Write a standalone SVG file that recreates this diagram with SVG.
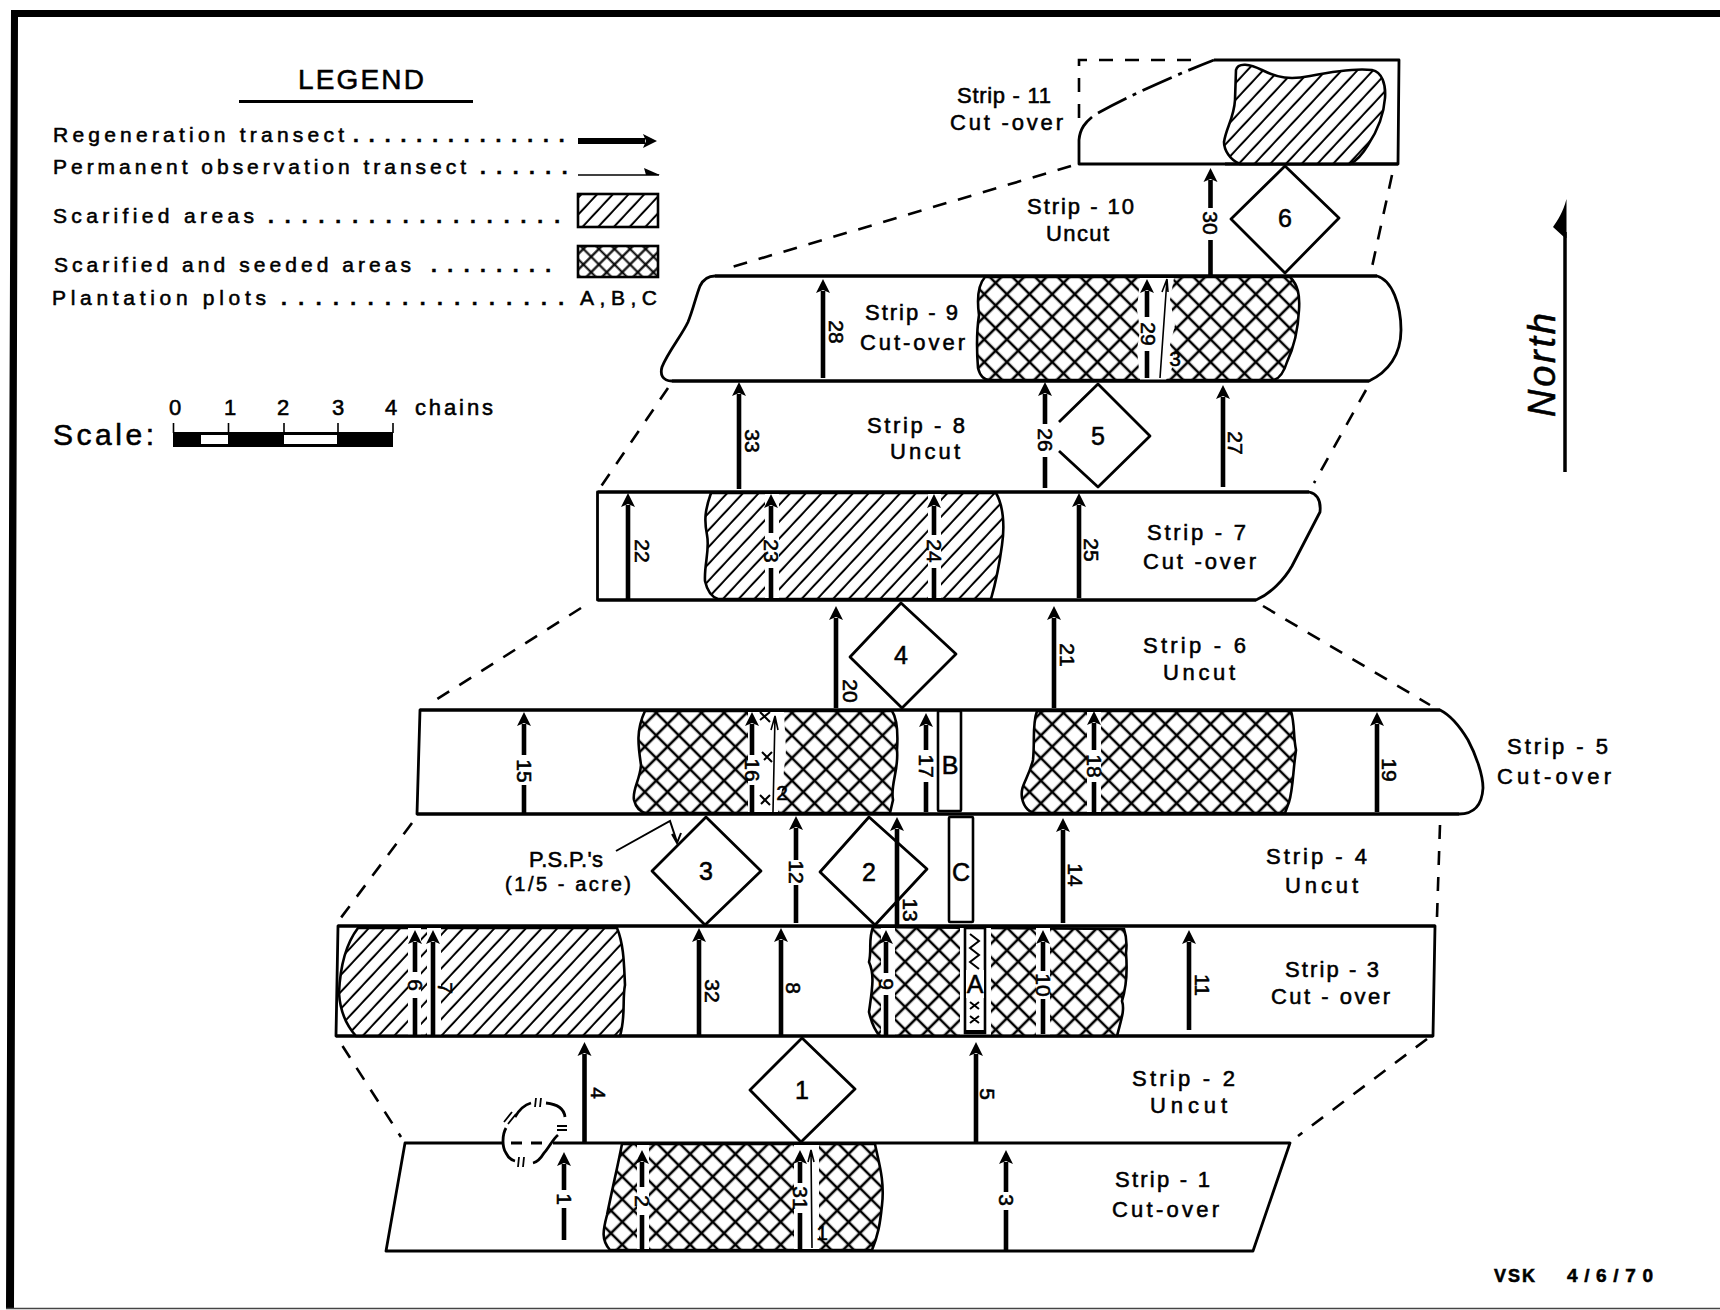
<svg xmlns="http://www.w3.org/2000/svg" width="1720" height="1310" viewBox="0 0 1720 1310">
<style>
text{font-family:"Liberation Sans",Arial,sans-serif;fill:#000;stroke:#000;stroke-width:.55}
.s{font-size:22px}
.leg{font-size:21px}
.dots{font-weight:bold}
.n{font-size:21px;text-anchor:middle;dominant-baseline:central}
.d{font-size:25px;text-anchor:middle;dominant-baseline:central}
.o{fill:#fff;stroke:#000;stroke-width:2.8;stroke-linejoin:round}
.e{fill:none;stroke:#000;stroke-width:2.8;stroke-linejoin:round}
.dash{fill:none;stroke:#000;stroke-width:2.6;stroke-dasharray:14 12}
.t{fill:none;stroke:#000;stroke-width:4.6;marker-end:url(#head)}
.th{fill:none;stroke:#000;stroke-width:1.6}
.hb{stroke:#000;stroke-width:2.6;fill:url(#hatch)}
.cb{stroke:#000;stroke-width:2.6;fill:url(#cross)}
</style>
<defs>
<marker id="head" markerUnits="userSpaceOnUse" viewBox="0 -8 16 16" refX="2" refY="0" markerWidth="16" markerHeight="16" orient="auto"><path d="M0-7L14 0L0 7L3 0Z" fill="#000"/></marker>
<pattern id="hatch" patternUnits="userSpaceOnUse" width="11.5" height="11.5" patternTransform="rotate(-47)"><rect width="11.5" height="11.5" fill="#fff"/><path d="M0 5.7H11.5" stroke="#000" stroke-width="2"/></pattern>
<pattern id="cross" patternUnits="userSpaceOnUse" width="16" height="16" patternTransform="rotate(45)"><rect width="16" height="16" fill="#fff"/><path d="M0 8H16M8 0V16" stroke="#000" stroke-width="2.6"/></pattern>
<pattern id="crossL" patternUnits="userSpaceOnUse" width="11" height="11" patternTransform="rotate(45)"><rect width="11" height="11" fill="#fff"/><path d="M0 5.5H11M5.5 0V11" stroke="#000" stroke-width="2.2"/></pattern>
</defs>
<rect width="1720" height="1310" fill="#fff"/>
<g id="frame"><path d="M11 10H1720V17H18L14 1308H6Z" fill="#000"/><path d="M6 1308.500H1720" stroke="#444" stroke-width="1.500"/></g>

<g id="legend">
<text x="298" y="89" font-size="28" textLength="126">LEGEND</text>
<path d="M239 101.500H473" stroke="#000" stroke-width="3"/>
<text class="leg" y="142"><tspan x="53" textLength="291">Regeneration  transect</tspan><tspan class="dots" x="353" letter-spacing="10">..............</tspan></text>
<text class="leg" y="174"><tspan x="53" textLength="413">Permanent  observation  transect</tspan><tspan class="dots" x="480" letter-spacing="10.500">......</tspan></text>
<text class="leg" y="223"><tspan x="53" textLength="201">Scarified  areas</tspan><tspan class="dots" x="268" letter-spacing="11">..................</tspan></text>
<text class="leg" y="272"><tspan x="54" textLength="357">Scarified and seeded areas</tspan><tspan class="dots" x="431" letter-spacing="10.500">........</tspan></text>
<text class="leg" y="305"><tspan x="52" textLength="214">Plantation  plots</tspan><tspan class="dots" x="281" letter-spacing="11.500">.................</tspan><tspan x="580" textLength="77">A,B,C</tspan></text>
<path d="M578 141H645" fill="none" stroke="#000" stroke-width="6" marker-end="url(#head)"/>
<path d="M578 175H659" class="th"/><path d="M644 168L660 175L646 175Z" fill="#000"/>
<rect x="578" y="194" width="80" height="33" fill="url(#hatch)" stroke="#000" stroke-width="2.600"/>
<rect x="578" y="246" width="80" height="31" fill="url(#crossL)" stroke="#000" stroke-width="2.600"/>
</g>

<g id="scale">
<text x="53" y="445" font-size="30" textLength="101">Scale:</text>
<text class="s" y="415"><tspan x="169">0</tspan><tspan x="224">1</tspan><tspan x="277">2</tspan><tspan x="332">3</tspan><tspan x="385">4</tspan><tspan x="415" textLength="78">chains</tspan></text>
<path d="M173 432H393V447H173Z" fill="#000"/>
<path d="M201 435H228V444H201ZM284 435H337V444H284Z" fill="#fff"/>
<path d="M173.500 423V433M228.500 423V433M284 423V433M338 423V433M393 423V433" stroke="#000" stroke-width="1.600"/>
</g>

<g id="north">
<path d="M1565 472V232" stroke="#000" stroke-width="3.500"/>
<path d="M1566.500 199C1563 212 1558 220 1553 227L1565 238L1566.500 238Z" fill="#000"/>
<text transform="translate(1555 417) rotate(-90)" font-size="38" font-style="italic" textLength="104">North</text>
</g>

<g id="connectors">
<path class="dash" d="M1071 166L732 267"/>
<path class="dash" d="M1392 175L1372 267"/>
<path class="dash" d="M668 388L600 488"/>
<path class="dash" d="M1366 390L1314 483"/>
<path class="dash" d="M581 608L431 703"/>
<path class="dash" d="M1263 606L1430 705"/>
<path class="dash" d="M412 823L340 919"/>
<path class="dash" d="M1440 825L1437 917"/>
<path class="dash" d="M342.500 1046L401 1137"/>
<path class="dash" d="M1427 1039L1298 1136"/>
</g>

<g id="strip-11">
<path class="e" d="M1214 60H1399L1398 164H1079V140C1080 128 1086 122 1092 117"/>
<path class="e" style="stroke-dasharray:32 7 4 7" d="M1098 113Q1150 85 1214 60"/>
<path class="dash" d="M1079 118V60H1197"/>
<path class="hb" d="M1236 70C1238 62 1250 64 1262 70C1278 78 1290 80 1310 76C1335 71 1355 68 1372 70C1382 72 1386 84 1385 98C1384 112 1378 130 1368 145C1362 155 1356 161 1350 164L1240 164C1230 160 1224 150 1224 142C1226 128 1234 118 1235 100Z"/>
<path class="e" d="M1225 164H1398"/>
<text class="s" x="957" y="103" textLength="94">Strip - 11</text>
<text class="s" x="950" y="130" textLength="113">Cut -over</text>
</g>
<g id="strip-10">
<text class="s" x="1027" y="214" textLength="107">Strip - 10</text>
<text class="s" x="1046" y="241" textLength="63">Uncut</text>
</g>
<g id="strip-9">
<path class="e" d="M715 276H1377C1392 280 1401 305 1401 330C1401 355 1388 372 1369 381H672C662 381 660 374 662 367C668 352 682 335 688 322C693 310 696 296 700 286C703 280 708 276 715 276Z"/>
<path class="cb" d="M985 277C978 285 977 300 979 315C976 335 977 355 978 368C980 376 984 380 990 380H1274C1280 378 1284 372 1287 362C1295 345 1298 330 1299 310C1300 295 1298 285 1290 277Z"/>
<path fill="#fff" d="M1140 278H1174L1170 300L1175 325L1170 345L1176 360L1166 380H1140L1137 350L1140 330L1137 310Z"/>
<path class="e" d="M715 276H1377M672 381H1369"/>
<path class="th" d="M1167 279L1160 378M1162 292L1167 279L1168 292"/>
<text class="n" x="1175" y="358" font-size="17">3</text>
<text class="s" x="865" y="320" textLength="93">Strip - 9</text>
<text class="s" x="860" y="350" textLength="105">Cut-over</text>
</g>
<g id="strip-8">
<text class="s" x="867" y="433" textLength="98">Strip - 8</text>
<text class="s" x="890" y="459" textLength="70">Uncut</text>
</g>
<g id="strip-7">
<path class="e" d="M597.500 492H1309C1318 494 1321 502 1320 512L1292 566C1284 580 1270 594 1256 600H597.500Z"/>
<path class="hb" d="M711 493C705 510 704 520 707 535C710 550 704 565 705 581C707 590 712 597 718 599H991C995 585 1000 560 1002 545C1005 525 1003 505 996 493Z"/>
<path fill="#fff" d="M765 494H779V598H765ZM928 494H941V598H928Z"/>
<path class="e" d="M598 492H1309M598 600H1256"/>
<text class="s" x="1147" y="540" textLength="99">Strip - 7</text>
<text class="s" x="1143" y="569" textLength="113">Cut -over</text>
</g>
<g id="strip-6">
<text class="s" x="1143" y="653" textLength="103">Strip - 6</text>
<text class="s" x="1163" y="680" textLength="72">Uncut</text>
</g>
<g id="strip-5">
<path class="e" d="M420 710H1440C1452 716 1462 730 1468 740C1476 755 1483 775 1483 788C1482 805 1474 814 1459 814H417Z"/>
<path class="cb" d="M645 711C636 730 638 745 641 765C640 780 632 790 634 800C636 808 640 812 646 813H890L893 800C890 785 899 770 897 750C898 735 898 720 892 711Z"/>
<path fill="#fff" d="M748 712H784L786 750L782 790L778 812H748Z"/>
<path class="cb" d="M1037 711C1032 725 1035 740 1033 760C1028 780 1020 785 1022 798C1024 808 1030 813 1036 813H1285L1289 802C1293 790 1293 770 1296 750C1293 735 1295 725 1291 711Z"/>
<path fill="#fff" d="M1087 712H1101V812H1087Z"/>
<path class="e" d="M420 710H1440M417 814H1459"/>
<path class="e" style="stroke-width:2" d="M760 720L770 712M760 712L770 722M762 752L772 762M772 752L764 760M760 795L770 805M770 795L761 804"/>
<path class="th" d="M775 716L773 812M771 730L775 716L778 730"/>
<text class="n" x="782" y="792" font-size="17">2</text>
<text class="s" x="1507" y="754" textLength="101">Strip - 5</text>
<text class="s" x="1497" y="784" textLength="114">Cut-over</text>
</g>
<g id="strip-4">
<text class="s" x="1266" y="864" textLength="101">Strip - 4</text>
<text class="s" x="1285" y="893" textLength="73">Uncut</text>
</g>
<g id="strip-3">
<path class="e" d="M338 926H1435L1433 1036H336Z"/>
<path class="hb" d="M358 928C345 945 340 970 339 993C340 1010 346 1025 356 1036H620C626 1015 622 1000 625 985C624 965 624 945 617 928Z"/>
<path fill="#fff" d="M408 928H421V1035H408ZM427 928H441V1035H427Z"/>
<path class="cb" d="M873 927C868 940 872 950 869 962C875 975 872 990 869 1012C872 1025 876 1032 880 1036H1117C1121 1020 1125 1010 1122 1001C1127 985 1127 965 1126 953C1127 945 1126 935 1124 929Z"/>
<path fill="#fff" d="M881 928H895V1035H881ZM960 928H991V1035H960ZM1036 928H1050V1035H1036Z"/>
<path class="e" d="M338 926H1435M336 1036H1433"/>
<text class="s" x="1285" y="977" textLength="94">Strip - 3</text>
<text class="s" x="1271" y="1004" textLength="119">Cut - over</text>
</g>
<g id="strip-2">
<text class="s" x="1132" y="1086" textLength="103">Strip - 2</text>
<text class="s" x="1150" y="1113" textLength="77">Uncut</text>
</g>
<g id="strip-1">
<path class="cb" d="M622 1144C618 1165 612 1190 607 1215C603 1230 601 1240 610 1250H872C878 1235 880 1225 882 1205C885 1180 878 1160 875 1144Z"/>
<path fill="#fff" d="M637 1145H649V1249H637ZM794 1145H819V1249H794Z"/>
<path class="e" d="M503 1143H405L386 1251H1253L1290 1143H553"/>
<path class="th" d="M811 1150L812 1248M808 1162L811 1150L814 1162"/>
<text class="n" x="822" y="1232" font-size="16">1</text>
<path class="e" d="M511 1143H522M531 1143H542"/>
<path class="e" d="M506 1128C502 1135 502 1147 506 1153C508 1157 511 1160 515 1161M515 1117C519 1110 524 1105 531 1103M546 1103C556 1104 564 1108 565 1117M558 1135C552 1140 549 1148 544 1153C541 1158 537 1162 533 1163"/>
<path class="e" style="stroke-width:1.800" d="M504 1122L512 1112M508 1124L516 1114M536 1098L535 1107M541 1098L540 1107M557 1126H567M557 1130H567M519 1157L518 1167M524 1157L523 1167"/>
<text class="s" x="1115" y="1187" textLength="95">Strip - 1</text>
<text class="s" x="1112" y="1217" textLength="107">Cut-over</text>
</g>

<g id="plot-A"><rect x="965" y="928" width="20" height="105" fill="#fff" stroke="#000" stroke-width="2.600"/>
<path d="M970 934L979 941L970 948L979 955L970 962L979 969M970 1002L979 1009M979 1002L970 1009M970 1016L979 1023M979 1016L970 1023" fill="none" stroke="#000" stroke-width="2"/>
<path d="M965 1032H985" stroke="#000" stroke-width="4"/>
<rect x="966" y="970" width="18" height="28" fill="#fff"/>
<text class="d" x="975" y="984">A</text></g>
<g id="plot-B"><rect x="938" y="711" width="23" height="100" rx="1" fill="#fff" stroke="#000" stroke-width="2.600"/><text class="d" x="950" y="765">B</text></g>
<g id="plot-C"><rect x="949" y="817" width="24" height="105" rx="1" fill="#fff" stroke="#000" stroke-width="2.600"/><text class="d" x="961" y="872">C</text></g>

<g id="psp-1"><path class="o" d="M802 1038L855 1089L801 1142L750 1090Z"/><text class="d" x="802" y="1090">1</text></g>
<g id="psp-2"><path class="o" d="M869 817L927 869L875 925L820 872Z"/><text class="d" x="869" y="872">2</text></g>
<g id="psp-3"><path class="o" d="M706 817L761 871L705 925L652 871Z"/><text class="d" x="706" y="871">3</text></g>
<g id="psp-4"><path class="o" d="M901 603L956 654L902 708L850 657Z"/><text class="d" x="901" y="655">4</text></g>
<g id="psp-5"><path class="e" d="M1059 422L1098 384L1150 436L1098 487L1059 451"/><text class="d" x="1098" y="436">5</text></g>
<g id="psp-6"><path class="o" d="M1285 166L1339 218L1285 273L1231 219Z"/><text class="d" x="1285" y="218">6</text></g>

<g id="psp-label">
<text class="s" x="529" y="867" textLength="74">P.S.P.'s</text>
<text x="505" y="891" font-size="20" textLength="126">(1/5 - acre)</text>
<path class="th" style="stroke-width:2" d="M616 851L670 821L677 842M672 834L677 843L681 833"/>
</g>

<g id="transects">
<path class="t" d="M564 1240V1208M564 1190V1164"/><text class="n" transform="rotate(90 564 1199)" x="564" y="1199">1</text>
<path class="t" d="M642 1250V1215M642 1187V1162"/><text class="n" transform="rotate(90 642 1201)" x="642" y="1201">2</text>
<path class="t" d="M800 1250V1213M800 1183V1162"/><text class="n" transform="rotate(90 800 1198)" x="800" y="1198">31</text>
<path class="t" d="M1006 1250V1210M1006 1192V1162"/><text class="n" transform="rotate(90 1006 1200)" x="1006" y="1200">3</text>
<path class="t" d="M584.500 1142V1054"/><text class="n" transform="rotate(90 598 1093)" x="598" y="1093">4</text>
<path class="t" d="M976 1142V1054"/><text class="n" transform="rotate(90 987 1094)" x="987" y="1094">5</text>
<path class="t" d="M415 1036V998M415 972V942"/><text class="n" transform="rotate(90 415 985)" x="415" y="985">6</text>
<path class="t" d="M433 1036V942"/><text class="n" transform="rotate(90 445 988)" x="445" y="988">7</text>
<path class="t" d="M699 1036V940"/><text class="n" transform="rotate(90 712 991)" x="712" y="991">32</text>
<path class="t" d="M781 1036V940"/><text class="n" transform="rotate(90 793 988)" x="793" y="988">8</text>
<path class="t" d="M886 1036V995M886 973V942"/><text class="n" transform="rotate(90 886 984)" x="886" y="984">9</text>
<path class="t" d="M1043 1034V999M1043 971V942"/><text class="n" transform="rotate(90 1043 985)" x="1043" y="985">10</text>
<path class="t" d="M1189 1030V942"/><text class="n" transform="rotate(90 1202 985)" x="1202" y="985">11</text>
<path class="t" d="M796 923V885M796 860V828"/><text class="n" transform="rotate(90 796 872)" x="796" y="872">12</text>
<path class="t" d="M897 925V829"/><text class="n" transform="rotate(90 910 910)" x="910" y="910">13</text>
<path class="t" d="M1063 923V830"/><text class="n" transform="rotate(90 1075 875)" x="1075" y="875">14</text>
<path class="t" d="M524 814V785M524 755V724"/><text class="n" transform="rotate(90 524 771)" x="524" y="771">15</text>
<path class="t" d="M752 814V785M752 755V724"/><text class="n" transform="rotate(90 752 770)" x="752" y="770">16</text>
<path class="t" d="M926 812V782M926 750V725"/><text class="n" transform="rotate(90 926 766)" x="926" y="766">17</text>
<path class="t" d="M1094 812V782M1094 750V723"/><text class="n" transform="rotate(90 1094 766)" x="1094" y="766">18</text>
<path class="t" d="M1377 812V724"/><text class="n" transform="rotate(90 1389 770)" x="1389" y="770">19</text>
<path class="t" d="M836 708V618"/><text class="n" transform="rotate(90 850 691)" x="850" y="691">20</text>
<path class="t" d="M1054 708V618"/><text class="n" transform="rotate(90 1067 655)" x="1067" y="655">21</text>
<path class="t" d="M628 600V505"/><text class="n" transform="rotate(90 642 551)" x="642" y="551">22</text>
<path class="t" d="M771 600V568M771 533V506"/><text class="n" transform="rotate(90 771 551)" x="771" y="551">23</text>
<path class="t" d="M934 598V568M934 535V506"/><text class="n" transform="rotate(90 934 551)" x="934" y="551">24</text>
<path class="t" d="M1079 598V505"/><text class="n" transform="rotate(90 1091 550)" x="1091" y="550">25</text>
<path class="t" d="M1045 488V457M1045 424V394"/><text class="n" transform="rotate(90 1045 440)" x="1045" y="440">26</text>
<path class="t" d="M1223 487V397"/><text class="n" transform="rotate(90 1235 443)" x="1235" y="443">27</text>
<path class="t" d="M823 378V291"/><text class="n" transform="rotate(90 836 332)" x="836" y="332">28</text>
<path class="t" d="M1147 378V351M1147 317V291"/><text class="n" transform="rotate(90 1148 334)" x="1148" y="334">29</text>
<path class="t" d="M1210.500 275V240M1210.500 208V180"/><text class="n" transform="rotate(90 1210 223)" x="1210" y="223">30</text>
<path class="t" d="M739 489V394"/><text class="n" transform="rotate(90 752 441)" x="752" y="441">33</text>
</g>

<text x="1494" y="1282" font-size="18" font-weight="bold" textLength="41">VSK</text>
<text x="1567" y="1282" font-size="19" font-weight="bold" textLength="86">4/6/70</text>
</svg>
